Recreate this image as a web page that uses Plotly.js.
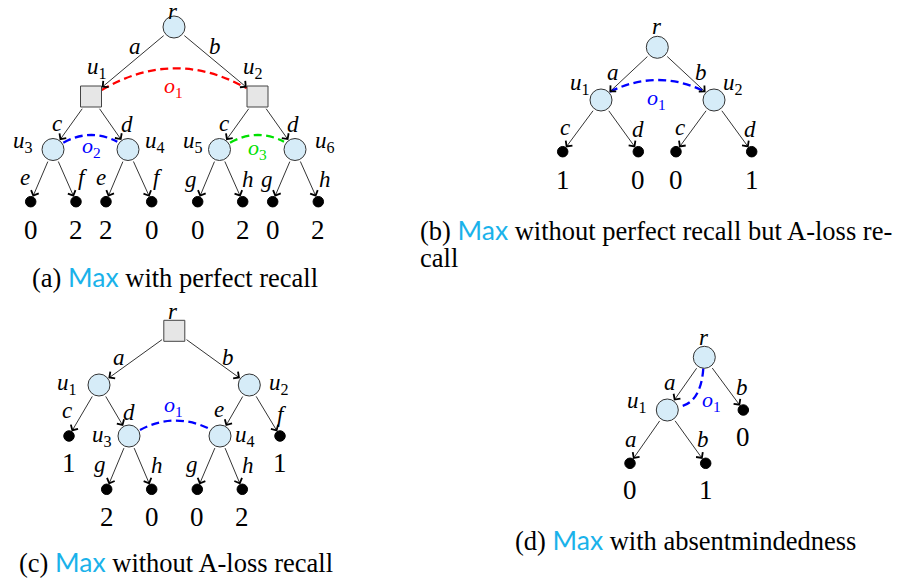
<!DOCTYPE html>
<html><head><meta charset="utf-8">
<script src="https://cdn.plot.ly/plotly-3.0.1.min.js"></script>
<style>html,body{margin:0;padding:0;background:#fff}</style>
</head><body><div id="chart" style="width:904px;height:582px"></div>
<script>
// ================= DATA =================
// Tree (a): Max with perfect recall
const kindA = ['c','s','s','c','c','c','c','t','t','t','t','t','t','t','t'];
const fromA = [0,0,1,1,2,2,3,3,4,4,5,5,6,6];
const toA   = [1,2,3,4,5,6,7,8,9,10,11,12,13,14];
const actionsA = ['a','b','c','d','c','d','e','f','e','f','g','h','g','h'];
const namesA = ['r','u1','u2','u3','u4','u5','u6'];
const payoffsA = [0,2,2,0,0,2,0,2];
const infoA = ['o1','o2','o3'];

// Tree (b): without perfect recall but A-loss recall
const kindB = ['c','c','c','t','t','t','t'];
const fromB = [0,0,1,1,2,2];
const toB   = [1,2,3,4,5,6];
const actionsB = ['a','b','c','d','c','d'];
const namesB = ['r','u1','u2'];
const payoffsB = [1,0,0,1];
const infoB = ['o1'];

// Tree (c): without A-loss recall
const kindC = ['s','c','c','c','c','t','t','t','t','t','t'];
const fromC = [0,0,1,1,2,2,3,3,4,4];
const toC   = [1,2,5,3,4,6,7,8,9,10];
const actionsC = ['a','b','c','d','e','f','g','h','g','h'];
const namesC = ['r','u1','u2','u3','u4'];
const payoffsC = [1,1,2,0,0,2];
const infoC = ['o1'];

// Tree (d): absentmindedness
const kindD = ['c','c','t','t','t'];
const fromD = [0,0,1,1];
const toD   = [1,2,3,4];
const actionsD = ['a','b','a','b'];
const namesD = ['r','u1'];
const payoffsD = [0,0,1];
const infoD = ['o1'];

// captions: [prefix, suffix] around the "Max" player name
const capText = [
  ['(a) ',' with perfect recall'],
  ['(b) ',' without perfect recall but A-loss re-'],
  ['(c) ',' without A-loss recall'],
  ['(d) ',' with absentmindedness']
];
const capContinuation = 'call';

// ================= LAYOUT (positions in px) =================
const posA = {
  x: [174,91,257.5,53,128,219.5,295,30.7,76,106,151.7,197.7,242.7,272.7,318.3],
  y: [27,96.5,96.5,149.5,149.5,149.5,149.5,201.7,201.7,201.7,201.7,201.7,201.7,201.7,201.7],
  actX: [135,215,57,127,224,293,25,83,101,158,191,248,267,325],
  actY: [46,46,123,124,123,124,177,177,177,177,179,179,179,179],
  nameX: [173,97,253,23,155,193,325], nameY: [11,68,68,142,142,142,142],
  payDy: 28.3,
  arcs: [[101.7,90,174,47.5,246.7,88.3],[63.3,142.7,90.5,127.8,117.3,141.7],[230,142.7,257,127.8,284,141.7]],
  infoX: [173,91,257], infoY: [87,147,149], infoCol: ['#ff0000','#0000ff','#00e000']
};
const posB = {
  x: [657.3,601,714,562.7,638.3,676,751.7],
  y: [47.3,100,100,151.7,151.7,151.7,151.7],
  actX: [613.3,700.7,565,637.7,680,750], actY: [72.3,72.3,127.3,129,127.3,129],
  nameX: [656.7,580,733.3], nameY: [26,84,84],
  payDy: 28.3,
  arcs: [[610,91.7,657,68.8,703,90.7]],
  infoX: [656.7], infoY: [99], infoCol: ['#0000ff']
};
const posC = {
  x: [174.3,99,249.3,129,220,69,280,106.7,151.7,197.3,242.3],
  y: [330.8,385,385,436,436,436,436,489.3,489.3,489.3,489.3],
  actX: [119.3,228.3,67.3,129.3,219.3,282.3,100,156.7,191.7,248.3],
  actY: [357.3,357.3,410.7,412.3,409,414,464,465.7,464,465.7],
  nameX: [173.3,67.3,279.3,101.7,245], nameY: [311,384,384,435.7,436.3],
  payDy: 27.4,
  arcs: [[140,430,174,412,208.3,428.3]],
  infoX: [173.3], infoY: [405.7], infoCol: ['#0000ff']
};
const posD = {
  x: [704.3,667.3,743.3,630,705.7],
  y: [357.3,410,410,463.3,463.3],
  actX: [670,741.7,631,703.3], actY: [382.3,387.3,439,439],
  nameX: [704.3,636.7], nameY: [337.5,402.3],
  payDy: 26.7,
  arcs: [[703.3,368.3,701,402,680,406.7]],
  infoX: [711.7], infoY: [400.7], infoCol: ['#0000ff']
};
const capX = [30,418,16.7,513], capY = [276.7,230,561.7,540], capContY = 258;

const R_CIRC = 11.5, HALF_SQ = 10.75, R_LEAF = 5.3;
const SERIF = '"Liberation Serif", "Times New Roman", serif';
const MAXCOL = '#1ab2ea';

function sub(name){ // 'u1' -> <i>u</i><sub>1</sub>
  const m = name.match(/^([a-z])(\d*)$/);
  return '<i>'+m[1]+'</i>' + (m[2] ? '<sub>'+m[2]+'</sub>' : '');
}
function boundary(kind, ux, uy){
  if (kind==='c') return R_CIRC;
  if (kind==='s') return HALF_SQ/Math.max(Math.abs(ux),Math.abs(uy));
  return R_LEAF;
}

const traces = [], annotations = [], shapes = [];

function addTree(kind, from, to, actions, names, payoffs, info, p){
  for (let i=0;i<from.length;i++){
    const a=from[i], b=to[i];
    const dx=p.x[b]-p.x[a], dy=p.y[b]-p.y[a], L=Math.hypot(dx,dy), ux=dx/L, uy=dy/L;
    const s=boundary(kind[a],ux,uy), e=boundary(kind[b],ux,uy);
    annotations.push({xref:'x',yref:'y',axref:'x',ayref:'y',
      ax:p.x[a]+ux*s, ay:p.y[a]+uy*s, x:p.x[b]-ux*e, y:p.y[b]-uy*e,
      text:'', showarrow:true, arrowhead:4, arrowsize:2, arrowwidth:0.8, arrowcolor:'#000'});
    annotations.push({xref:'x',yref:'y',x:p.actX[i],y:p.actY[i],text:'<i>'+actions[i]+'</i>',
      showarrow:false,font:{family:SERIF,size:23,color:'#000'}});
  }
  const groups = {c:{sym:'circle',size:22,fill:'#d6ecf8',lc:'#333'}, s:{sym:'square',size:21,fill:'#e6e6e6',lc:'#444'}, t:{sym:'circle',size:10.5,fill:'#000',lc:'#000'}};
  for (const k of ['c','s','t']){
    const xs=[], ys=[];
    kind.forEach((kk,i)=>{ if(kk===k){xs.push(p.x[i]);ys.push(p.y[i]);} });
    if (!xs.length) continue;
    const g=groups[k];
    traces.push({type:'scatter',mode:'markers',x:xs,y:ys,hoverinfo:'skip',
      marker:{symbol:g.sym,size:g.size,color:g.fill,line:{color:g.lc,width:1}}});
  }
  names.forEach((n,i)=>annotations.push({xref:'x',yref:'y',x:p.nameX[i],y:p.nameY[i],text:sub(n),
    showarrow:false,font:{family:SERIF,size:23,color:'#000'}}));
  let j=0;
  kind.forEach((kk,i)=>{ if(kk==='t'){
    annotations.push({xref:'x',yref:'y',x:p.x[i],y:p.y[i]+p.payDy,text:String(payoffs[j++]),
      showarrow:false,font:{family:SERIF,size:27,color:'#000'}});
  }});
  info.forEach((o,i)=>{
    const c=p.arcs[i];
    shapes.push({type:'path',xref:'x',yref:'y',layer:'below',
      path:`M${c[0]},${c[1]} Q${c[2]},${c[3]} ${c[4]},${c[5]}`,
      line:{color:p.infoCol[i],width:2.3,dash:'8px,4.5px'}});
    annotations.push({xref:'x',yref:'y',x:p.infoX[i],y:p.infoY[i],text:sub(o),
      showarrow:false,font:{family:SERIF,size:22,color:p.infoCol[i]}});
  });
}

addTree(kindA,fromA,toA,actionsA,namesA,payoffsA,infoA,posA);
addTree(kindB,fromB,toB,actionsB,namesB,payoffsB,infoB,posB);
addTree(kindC,fromC,toC,actionsC,namesC,payoffsC,infoC,posC);
addTree(kindD,fromD,toD,actionsD,namesD,payoffsD,infoD,posD);

capText.forEach((t,i)=>annotations.push({xref:'x',yref:'y',x:capX[i],y:capY[i],xanchor:'left',
  text:t[0]+'<span style="font-family:Lato;color:'+MAXCOL+'">Max</span>'+t[1],
  showarrow:false,font:{family:SERIF,size:26.5,color:'#000'}}));
annotations.push({xref:'x',yref:'y',x:capX[1],y:capContY,xanchor:'left',text:capContinuation,showarrow:false,
  font:{family:SERIF,size:26.5,color:'#000'}});

Plotly.newPlot('chart', traces, {
  width:904,height:582,margin:{l:0,r:0,t:0,b:0},showlegend:false,
  paper_bgcolor:'#fff',plot_bgcolor:'#fff',
  xaxis:{range:[0,904],visible:false,fixedrange:true},
  yaxis:{range:[582,0],visible:false,fixedrange:true},
  annotations:annotations, shapes:shapes
},{staticPlot:true});
</script></body></html>
